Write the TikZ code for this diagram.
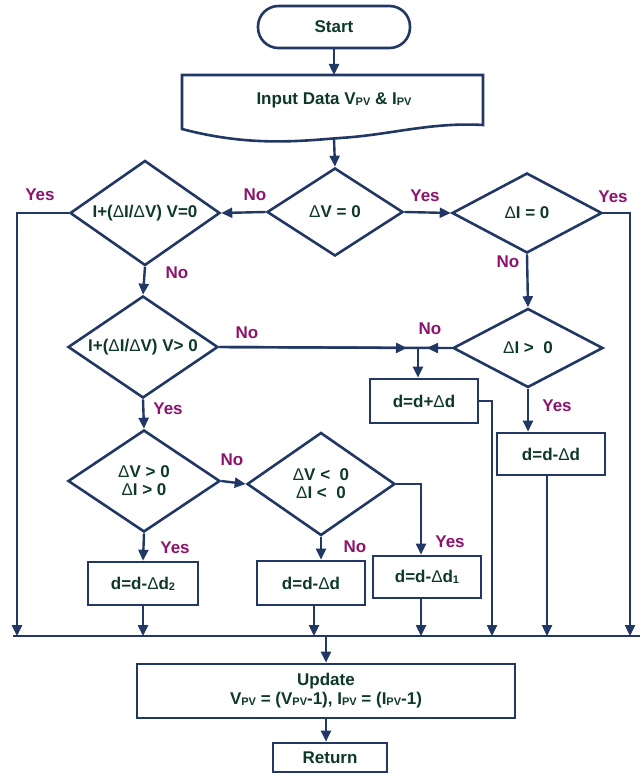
\documentclass[tikz,border=0pt]{standalone}
\usepackage{fontspec}
\setmainfont{Liberation Sans}
\usetikzlibrary{shapes.geometric,arrows.meta}
\definecolor{ln}{RGB}{33,55,100}
\definecolor{tx}{RGB}{14,56,40}
\definecolor{lb}{RGB}{140,20,110}
\newcommand{\sbs}[1]{\raisebox{-0.9pt}{\fontsize{11}{11}\selectfont #1}}
\newcommand{\Dl}{{\mdseries Δ}}
\begin{document}
\begin{tikzpicture}[x=1pt,y=-1pt,
  every node/.style={font=\fontsize{17}{19}\selectfont\bfseries, text=tx},
  dia/.style={draw=ln, line width=2.6pt, diamond, shape aspect=1.5, inner sep=0pt, align=center, fill=white},
  box/.style={draw=ln, line width=2.6pt, rectangle, inner sep=0pt, align=center, fill=white},
  lbl/.style={text=lb},
  con/.style={draw=ln, line width=2.4pt},
  arr/.style={con, -{Triangle[width=10pt,length=11pt]}},
]
\useasboundingbox (0,0) rectangle (643,776);

% coordinates
\coordinate (inTop) at (334,75);
\coordinate (inBot) at (334,139);
\coordinate (busL) at (13,636);
\coordinate (busR) at (640,636);
\coordinate (yL) at (17,636);
\coordinate (yR) at (630,636);
\coordinate (J) at (418,348);
\coordinate (xP) at (492,636);
\coordinate (xM) at (547,636);
\coordinate (xD2) at (143,636);
\coordinate (xMid) at (314,636);
\coordinate (xD1) at (421,636);
\coordinate (xU) at (326,636);

% start and input
\node[box, rounded corners=20.5pt, minimum width=152pt, minimum height=42pt] (start) at (334,27) {Start};
\draw[con, line width=2.6pt, fill=white] (182,75) -- (483,75) -- (483,125)
  .. controls (430,122) and (390,135) .. (340,138)
  .. controls (300,141) and (250,147) .. (182,129) -- cycle;
\node (input) at (334,100) {Input Data V\sbs{PV} \& I\sbs{PV}};

% decisions
\node[dia, minimum width=136pt, minimum height=88pt] (d0) at (335,212) {\Dl V = 0};
\node[dia, minimum width=150pt, minimum height=105pt] (d1) at (145,213) {I+(\Dl I/\Dl V) V=0};
\node[dia, shape aspect=1.9, minimum width=150pt, minimum height=80pt] (dI0) at (527,213) {\Dl I = 0};
\node[dia, minimum width=150pt, minimum height=102pt] (d2) at (143,347) {I+(\Dl I/\Dl V) V> 0};
\node[dia, shape aspect=1.9, minimum width=150pt, minimum height=79pt] (dIp) at (528,348) {\Dl I >\ \ 0};
\node[dia, minimum width=152pt, minimum height=102pt] (d3) at (144,481) {\Dl V > 0\\[-1pt]\Dl I > 0};
\node[dia, minimum width=148pt, minimum height=103pt] (d4) at (321,484) {\Dl V <\ \ 0\\[-1pt]\Dl I <\ \ 0};

% process boxes
\node[box, minimum width=108pt, minimum height=44pt] (bPlus) at (424,401) {d=d+\Dl d};
\node[box, minimum width=108pt, minimum height=42pt] (bMinR) at (551,454) {d=d-\Dl d};
\node[box, minimum width=110pt, minimum height=43pt] (bD2) at (143,583.5) {d=d-\Dl d\sbs{2}};
\node[box, minimum width=108pt, minimum height=44pt] (bMid) at (311,583) {d=d-\Dl d};
\node[box, minimum width=108pt, minimum height=42pt] (bD1) at (427,577) {d=d-\Dl d\sbs{1}};
\node[box, minimum width=378pt, minimum height=54pt] (upd) at (326,691) {Update\\V\sbs{PV} = (V\sbs{PV}-1), I\sbs{PV} = (I\sbs{PV}-1)};
\node[box, minimum width=114pt, minimum height=29pt] (ret) at (330,757.5) {Return};

% connectors
\draw[arr] (start.south) -- (inTop);
\draw[arr] (inBot) -- (d0.north);
\draw[arr] (d0.west) -- (d1.east);
\draw[arr] (d0.east) -- (dI0.west);
\draw[arr] (d1.west) -| (yL);
\draw[arr] (dI0.east) -| (yR);
\draw[arr] (d1.south) -- (d2.north);
\draw[arr] (dI0.south) -- (dIp.north);
\draw[con] (d2.east) -- (dIp.west);
\draw[arr, shorten >=11pt] (d2.east) -- (J);
\draw[arr, shorten >=9pt] (dIp.west) -- (J);
\draw[arr] (J) -- (J |- bPlus.north);
\draw[arr] (bPlus.east) -| (xP);
\draw[arr] (dIp.south) -- (dIp.south |- bMinR.north);
\draw[arr] (bMinR.south -| xM) -- (xM);
\draw[arr] (d2.south) -- (d3.north);
\draw[arr] (d3.east) -- (d4.west);
\draw[arr] (d3.south) -- (bD2.north);
\draw[arr] (d4.south) -- (d4.south |- bMid.north);
\draw[arr] (d4.east) -| (xD1 |- bD1.north);
\draw[arr] (bD2.south) -- (xD2);
\draw[arr] (bMid.south -| xMid) -- (xMid);
\draw[arr] (bD1.south -| xD1) -- (xD1);
\draw[con] (busL) -- (busR);
\draw[arr] (xU) -- (upd.north);
\draw[arr] (upd.south) -- (upd.south |- ret.north);

% labels
\node[lbl] (l1) at (40,195) {Yes};
\node[lbl] (l2) at (255,195) {No};
\node[lbl] (l3) at (177,273) {No};
\node[lbl] (l4) at (425,196) {Yes};
\node[lbl] (l5) at (613,197) {Yes};
\node[lbl] (l6) at (508,262) {No};
\node[lbl] (l7) at (247,333) {No};
\node[lbl] (l8) at (168,409) {Yes};
\node[lbl] (l9) at (430,329) {No};
\node[lbl] (l10) at (557,406) {Yes};
\node[lbl] (l11) at (232,460) {No};
\node[lbl] (l12) at (175,548) {Yes};
\node[lbl] (l13) at (355,547) {No};
\node[lbl] (l14) at (450,542) {Yes};
\end{tikzpicture}
\end{document}
